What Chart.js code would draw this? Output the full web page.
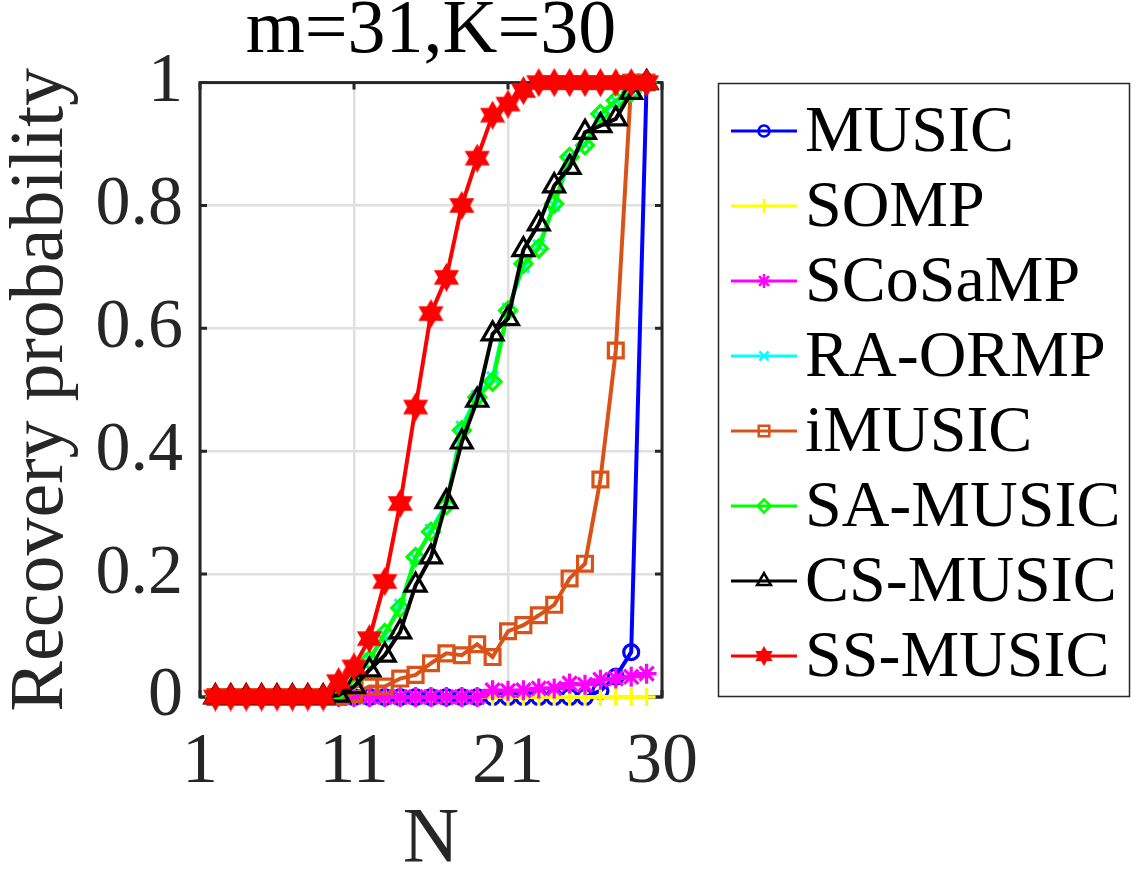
<!DOCTYPE html>
<html>
<head>
<meta charset="utf-8">
<title>Recovery probability</title>
<script src="https://cdn.jsdelivr.net/npm/chart.js@4.4.1/dist/chart.umd.min.js"></script>
<style>
  html, body { margin: 0; padding: 0; background: #fff; }
  #wrap { width: 1138px; height: 870px; }
</style>
</head>
<body>
<div id="wrap"><canvas id="recoveryChart" width="1138" height="870"></canvas></div>
<script>
// N values (x) and recovery probability per method
const nValues = [2, 3, 4, 5, 6, 7, 8, 9, 10, 11, 12, 13, 14, 15, 16, 17, 18, 19, 20, 21, 22, 23, 24, 25, 26, 27, 28, 29, 30];

const music    = [0, 0, 0, 0, 0, 0, 0, 0, 0, 0, 0, 0, 0, 0, 0, 0, 0, 0, 0, 0, 0, 0, 0, 0, 0, 0.01, 0.033, 0.073, 1];
const somp     = [0, 0, 0, 0, 0, 0, 0, 0, 0, 0, 0, 0, 0, 0, 0, 0, 0, 0, 0, 0, 0, 0, 0, 0, 0, 0, 0, 0, 0];
const scosamp  = [0, 0, 0, 0, 0, 0, 0, 0, 0, 0, 0, 0, 0, 0, 0, 0, 0, 0, 0.011, 0.01, 0.011, 0.014, 0.014, 0.022, 0.02, 0.028, 0.03, 0.033, 0.038];
const raOrmp   = [0, 0, 0, 0, 0, 0, 0, 0, 0.01, 0.03, 0.062, 0.1, 0.15, 0.225, 0.272, 0.315, 0.44, 0.49, 0.52, 0.632, 0.7, 0.735, 0.8, 0.875, 0.9, 0.945, 0.97, 0.985, 1];
const iMusic   = [0, 0, 0, 0, 0, 0, 0, 0, 0, 0.005, 0.017, 0.017, 0.03, 0.036, 0.055, 0.071, 0.068, 0.086, 0.065, 0.107, 0.117, 0.133, 0.15, 0.193, 0.217, 0.354, 0.564, 1, 1];
const saMusic  = [0, 0, 0, 0, 0, 0, 0, 0, 0.008, 0.028, 0.06, 0.104, 0.145, 0.228, 0.269, 0.312, 0.434, 0.488, 0.513, 0.629, 0.705, 0.73, 0.803, 0.879, 0.898, 0.949, 0.971, 0.984, 1];
const csMusic  = [0, 0, 0, 0, 0, 0, 0, 0, 0.003, 0.017, 0.044, 0.068, 0.106, 0.182, 0.228, 0.318, 0.415, 0.483, 0.591, 0.616, 0.728, 0.77, 0.832, 0.862, 0.919, 0.93, 0.941, 0.984, 1];
const ssMusic  = [0, 0, 0, 0, 0, 0, 0, 0, 0.025, 0.049, 0.095, 0.188, 0.315, 0.472, 0.624, 0.683, 0.8, 0.877, 0.947, 0.965, 0.987, 1, 1, 1, 1, 1, 1, 1, 1];

const seriesNames = ['MUSIC', 'SOMP', 'SCoSaMP', 'RA-ORMP', 'iMUSIC', 'SA-MUSIC', 'CS-MUSIC', 'SS-MUSIC'];

const xTickValues = [1, 11, 21, 31];
const xTickLabels = ['1', '11', '21', '30'];
const yTickValues = [0, 0.2, 0.4, 0.6, 0.8, 1];
const yTickLabels = ['0', '0.2', '0.4', '0.6', '0.8', '1'];

const FONT = '"Liberation Serif", "Times New Roman", serif';
const AXIS_COLOR = '#262626';

// filled six-pointed star (MATLAB 'hexagram')
const makeHexagram = (r, color) => {
    const c = document.createElement('canvas');
    const s = Math.ceil(r * 2 + 4);
    c.width = s;
    c.height = s;
    const g = c.getContext('2d');
    g.beginPath();
    for (let i = 0; i < 12; i++) {
        const a = -Math.PI / 2 + i * Math.PI / 6;
        const rr = i % 2 === 0 ? r : r * 0.577;
        g.lineTo(s / 2 + rr * Math.cos(a), s / 2 + rr * Math.sin(a));
    }
    g.closePath();
    g.fillStyle = color;
    g.fill();
    g.strokeStyle = color;
    g.lineWidth = 2;
    g.stroke();
    return c;
};

const styles = [
    { color: '#0000ff', point: 'circle', radius: 7.5, legendRadius: 5.5 },
    { color: '#ffff00', point: 'cross', radius: 9, legendRadius: 7 },
    { color: '#ff00ff', point: 'star', radius: 10, legendRadius: 7 },
    { color: '#00ffff', point: 'crossRot', radius: 8, legendRadius: 6.5 },
    { color: '#d95319', point: 'rect', radius: 10.5, legendRadius: 7.5 },
    { color: '#00ff00', point: 'rectRot', radius: 8.5, legendRadius: 6.5 },
    { color: '#000000', point: 'triangle', radius: 12, legendRadius: 8 },
    { color: '#ff0000', point: makeHexagram(12.5, '#ff0000'), radius: 12, legendPoint: makeHexagram(8, '#ff0000') },
];

const seriesValues = [music, somp, scosamp, raOrmp, iMusic, saMusic, csMusic, ssMusic];

const datasets = seriesNames.map((name, i) => ({
    label: name,
    data: nValues.map((n, k) => ({ x: n, y: seriesValues[i][k] })),
    borderColor: styles[i].color,
    backgroundColor: styles[i].color,
    pointBorderColor: styles[i].color,
    pointBackgroundColor: 'rgba(0,0,0,0)',
    pointStyle: styles[i].point,
    pointRadius: styles[i].radius,
    pointHoverRadius: styles[i].radius,
    pointBorderWidth: 3.2,
    borderWidth: 4,
    tension: 0,
    fill: false,
    clip: false,
    order: seriesNames.length - i,
}));

// MATLAB style axes box with inward tick marks, drawn under the data
const axesBox = {
    id: 'axesBox',
    beforeDatasetsDraw(chart) {
        const { ctx, chartArea: a, scales } = chart;
        ctx.save();
        ctx.strokeStyle = AXIS_COLOR;
        ctx.lineWidth = 3;
        ctx.strokeRect(a.left, a.top, a.right - a.left, a.bottom - a.top);
        ctx.beginPath();
        xTickValues.forEach((v) => {
            const px = scales.x.getPixelForValue(v);
            ctx.moveTo(px, a.bottom); ctx.lineTo(px, a.bottom - 7);
            ctx.moveTo(px, a.top); ctx.lineTo(px, a.top + 7);
        });
        yTickValues.forEach((v) => {
            const py = scales.y.getPixelForValue(v);
            ctx.moveTo(a.left, py); ctx.lineTo(a.left + 7, py);
            ctx.moveTo(a.right, py); ctx.lineTo(a.right - 7, py);
        });
        ctx.stroke();
        ctx.restore();
    },
};

// boxed legend to the right of the axes, line + marker + label
const boxLegend = {
    id: 'boxLegend',
    afterDraw(chart) {
        const ctx = chart.ctx;
        ctx.save();
        ctx.strokeStyle = AXIS_COLOR;
        ctx.lineWidth = 1.5;
        ctx.strokeRect(718.5, 83.5, 411, 613);
        chart.data.datasets.forEach((ds, i) => {
            const st = styles[i];
            const y = 131 + i * 75;
            ctx.strokeStyle = st.color;
            ctx.lineWidth = 3;
            ctx.beginPath();
            ctx.moveTo(731, y);
            ctx.lineTo(797, y);
            ctx.stroke();
            ctx.fillStyle = 'rgba(0,0,0,0)';
            ctx.lineWidth = 2.5;
            Chart.helpers.drawPoint(ctx, {
                pointStyle: st.legendPoint || st.point,
                radius: st.legendRadius || 8,
                rotation: 0,
                borderWidth: 2.5,
            }, 764, y);
            ctx.fillStyle = '#000';
            ctx.font = '66px ' + FONT;
            ctx.textBaseline = 'middle';
            ctx.textAlign = 'left';
            ctx.fillText(ds.label, 805, y + 3);
        });
        ctx.restore();
    },
};

const initRecoveryChart = () => {
    const canvas = document.getElementById('recoveryChart');
    if (!canvas) {
        return;
    }

    new Chart(canvas, {
        type: 'line',
        data: { datasets },
        options: {
            responsive: false,
            animation: false,
            devicePixelRatio: 1,
            layout: { padding: { left: 0, right: 476, top: 0, bottom: 0 } },
            plugins: {
                legend: { display: false },
                tooltip: { enabled: false },
                title: {
                    display: true,
                    fullSize: false,
                    text: 'm=31,K=30',
                    color: '#000',
                    font: { family: FONT, size: 76, weight: 'normal', lineHeight: 0.85 },
                    padding: { top: 0, bottom: 18 },
                },
            },
            scales: {
                x: {
                    type: 'linear',
                    min: 1,
                    max: 31,
                    afterBuildTicks: (s) => { s.ticks = xTickValues.map((v) => ({ value: v })); },
                    afterFit: (s) => { s.height = 173; },
                    ticks: {
                        autoSkip: false,
                        maxRotation: 0,
                        minRotation: 0,
                        padding: 23,
                        color: AXIS_COLOR,
                        font: { family: FONT, size: 72 },
                        callback: (v) => xTickLabels[xTickValues.indexOf(v)],
                    },
                    grid: { color: '#e0e0e0', lineWidth: 2.5, drawTicks: false },
                    border: { display: false },
                    title: {
                        display: true,
                        text: 'N',
                        color: AXIS_COLOR,
                        font: { family: FONT, size: 78, lineHeight: 0.7 },
                        padding: { top: 0, bottom: 2 },
                    },
                },
                y: {
                    min: 0,
                    max: 1,
                    afterBuildTicks: (s) => { s.ticks = yTickValues.map((v) => ({ value: v })); },
                    afterFit: (s) => { s.width = 200; },
                    ticks: {
                        padding: 17,
                        color: AXIS_COLOR,
                        font: { family: FONT, size: 70 },
                        callback: (v) => yTickLabels[yTickValues.indexOf(v)],
                    },
                    grid: { color: '#e0e0e0', lineWidth: 2.5, drawTicks: false },
                    border: { display: false },
                    title: {
                        display: true,
                        text: 'Recovery probability',
                        color: AXIS_COLOR,
                        font: { family: FONT, size: 76, lineHeight: 1 },
                        padding: { top: 4, bottom: 0 },
                    },
                },
            },
        },
        plugins: [axesBox, boxLegend],
    });
};

if (document.readyState === 'loading') {
    document.addEventListener('DOMContentLoaded', initRecoveryChart, { once: true });
} else {
    initRecoveryChart();
}
</script>
</body>
</html>
